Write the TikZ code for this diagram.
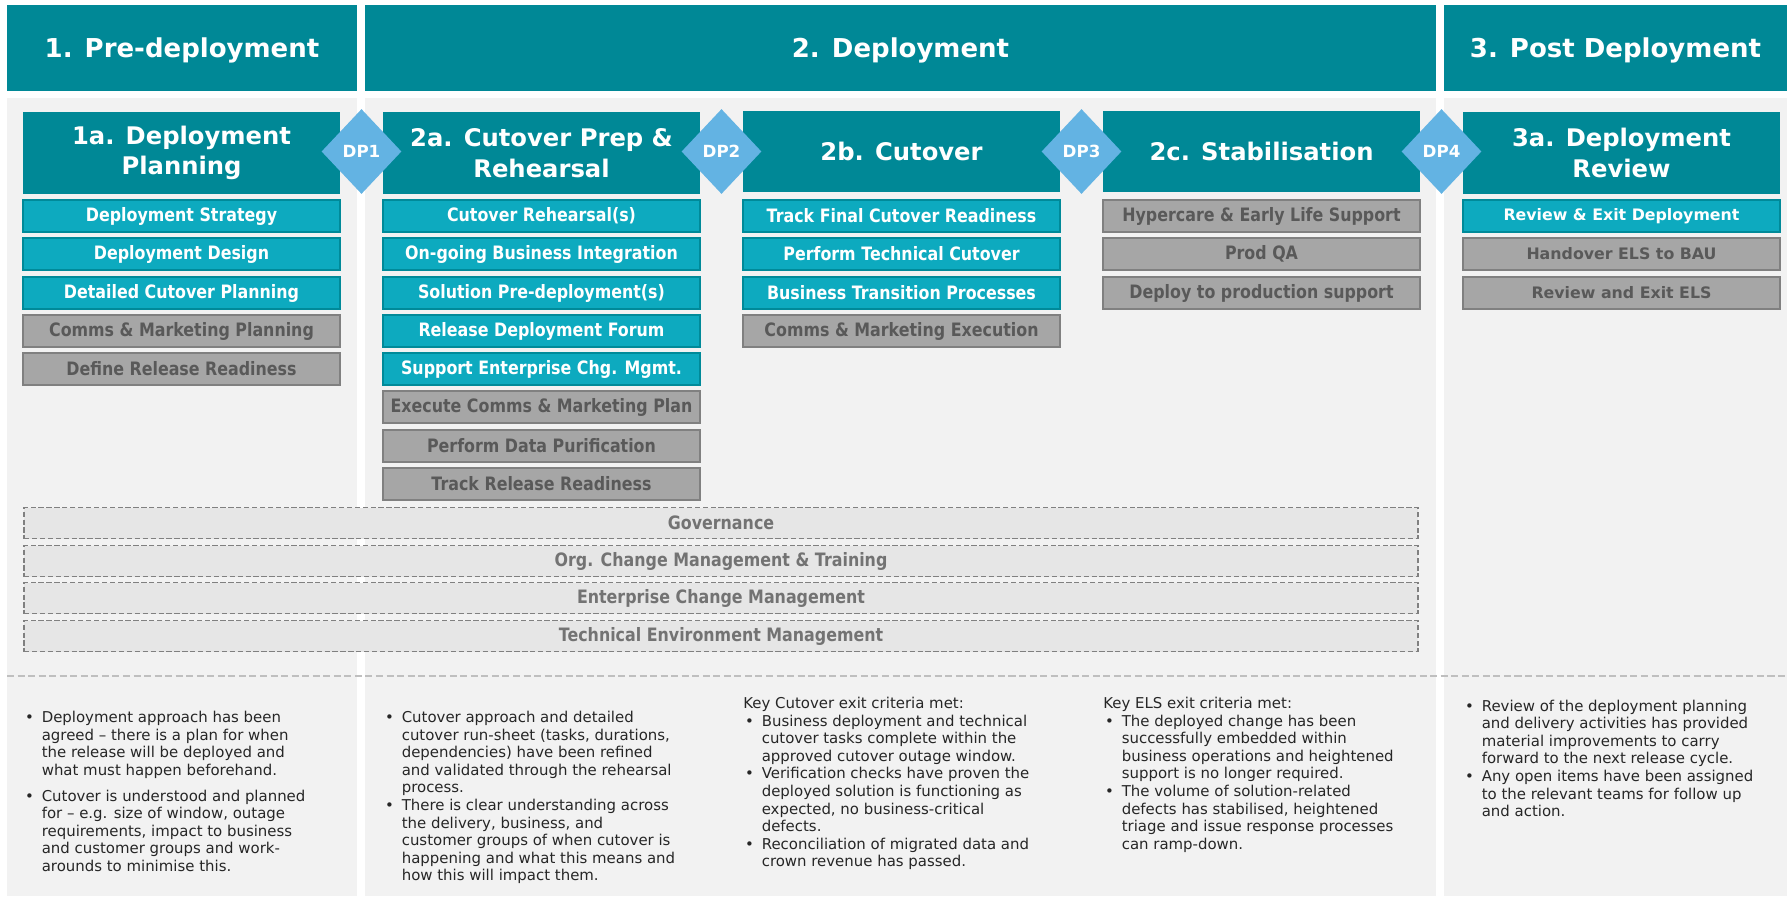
\documentclass[tikz,border=0pt]{standalone}
\usepackage{fontspec}
\setmainfont{DejaVu Sans}
\newfontfamily\condbf{DejaVu Sans Bold}[FakeStretch=0.86]
\usetikzlibrary{shapes.geometric}

\definecolor{tealdk}{HTML}{008896}
\definecolor{tealsub}{HTML}{0DAABF}
\definecolor{tealedge}{HTML}{008A99}
\definecolor{greysub}{HTML}{A6A6A6}
\definecolor{greyedge}{HTML}{808080}
\definecolor{greytxt}{HTML}{595959}
\definecolor{dpblue}{HTML}{63B3E3}
\definecolor{panelbg}{HTML}{F2F2F2}
\definecolor{bandbg}{HTML}{E6E6E6}
\definecolor{bandtxt}{HTML}{737373}
\definecolor{sepgrey}{HTML}{BFBFBF}
\definecolor{bodytxt}{HTML}{262626}

% bullet and hanging indent for the exit notes
\newcommand{\bul}{\makebox[10.5pt][l]{\hspace{1pt}\textbullet}}
\newcommand{\ind}{\hspace*{10.5pt}}

\begin{document}
\begin{tikzpicture}[x=0.02cm, y=-0.02cm,
    header/.style={fill=tealdk, text=white, inner sep=0, minimum height=1.72cm, text depth=0pt,
      font=\fontsize{14.8}{18}\selectfont\bfseries},
    panel/.style={fill=panelbg, inner sep=0, minimum height=15.96cm},
    phase/.style={fill=tealdk, text=white, align=center, inner sep=0,
      minimum width=6.34cm, minimum height=1.64cm, font=\fontsize{13.8}{17.5}\selectfont\bfseries},
    gate/.style={diamond, fill=dpblue, text=white, inner sep=0,
      minimum width=1.6cm, minimum height=1.7cm, font=\fontsize{9.5}{11}\selectfont\bfseries},
    task/.style={fill=tealsub, draw=tealedge, line width=1.2pt, text=white, inner sep=0,
      minimum width=6.34cm, minimum height=0.64cm, font=\fontsize{10.5}{12}\condbf},
    later/.style={task, fill=greysub, draw=greyedge, text=greytxt},
    band/.style={fill=bandbg, draw=greyedge, dash pattern=on 3pt off 1.5pt, line width=1pt,
      text=bandtxt, inner sep=0, minimum width=27.88cm, minimum height=0.62cm,
      font=\fontsize{10.5}{12}\condbf},
    notes/.style={anchor=north west, align=left, inner sep=0, text=bodytxt,
      font=\fontsize{8.5}{10}\selectfont}
  ]
  \useasboundingbox (0,0) rectangle (1787,899);
  \fill[white] (0,0) rectangle (1787,899);

  % Phase headers
  \node[header, minimum width=7cm] (h1) at (182,48) {1. Pre-deployment};
  \node[header, minimum width=21.42cm] (h2) at (900.5,48) {2. Deployment};
  \node[header, minimum width=6.86cm] (h3) at (1615.5,48) {3. Post Deployment};

  % Column backgrounds
  \node[panel, minimum width=7cm] (col1) at (182,497) {};
  \node[panel, minimum width=21.42cm] (col2) at (900.5,497) {};
  \node[panel, minimum width=6.86cm] (col3) at (1615.5,497) {};

  % Divider above the exit notes
  \draw[sepgrey, line width=0.8pt, dash pattern=on 4pt off 2pt] (7,676) -- (1787,676);

  % Stages
  \node[phase] (p1a) at (181.5,153) {1a. Deployment\\Planning};
  \node[phase] (p2a) at (541.5,153) {2a. Cutover Prep \&\\Rehearsal};
  \node[phase] (p2b) at (901.5,151.5) {2b. Cutover};
  \node[phase] (p2c) at (1261.5,151.5) {2c. Stabilisation};
  \node[phase] (p3a) at (1621.5,153) {3a. Deployment\\Review};

  % Decision points
  \node[gate] (dp1) at (361.5,151.5) {DP1};
  \node[gate] (dp2) at (721.5,151.5) {DP2};
  \node[gate] (dp3) at (1081.5,151.5) {DP3};
  \node[gate] (dp4) at (1441.5,151.5) {DP4};

  % 1a tasks
  \node[task] (a1) at (181.5,216) {Deployment Strategy};
  \node[task] (a2) at (181.5,254) {Deployment Design};
  \node[task] (a3) at (181.5,293) {Detailed Cutover Planning};
  \node[later] (a4) at (181.5,331) {Comms \& Marketing Planning};
  \node[later] (a5) at (181.5,369) {Define Release Readiness};

  % 2a tasks
  \node[task] (b1) at (541.5,216) {Cutover Rehearsal(s)};
  \node[task] (b2) at (541.5,254) {On-going Business Integration};
  \node[task] (b3) at (541.5,293) {Solution Pre-deployment(s)};
  \node[task] (b4) at (541.5,331) {Release Deployment Forum};
  \node[task] (b5) at (541.5,369) {Support Enterprise Chg. Mgmt.};
  \node[later] (b6) at (541.5,407) {Execute Comms \& Marketing Plan};
  \node[later] (b7) at (541.5,446) {Perform Data Purification};
  \node[later] (b8) at (541.5,484) {Track Release Readiness};

  % 2b tasks
  \node[task] (c1) at (901.5,216) {Track Final Cutover Readiness};
  \node[task] (c2) at (901.5,254) {Perform Technical Cutover};
  \node[task] (c3) at (901.5,293) {Business Transition Processes};
  \node[later] (c4) at (901.5,331) {Comms \& Marketing Execution};

  % 2c tasks
  \node[later] (d1) at (1261.5,216) {Hypercare \& Early Life Support};
  \node[later] (d2) at (1261.5,254) {Prod QA};
  \node[later] (d3) at (1261.5,293) {Deploy to production support};

  % 3a tasks
  \node[task, font=\fontsize{9}{11}\selectfont\bfseries] (e1) at (1621.5,216) {Review \& Exit Deployment};
  \node[later, font=\fontsize{9}{11}\selectfont\bfseries] (e2) at (1621.5,254) {Handover ELS to BAU};
  \node[later, font=\fontsize{9}{11}\selectfont\bfseries] (e3) at (1621.5,293) {Review and Exit ELS};

  % Ongoing workstreams
  \node[band] (gov) at (721,523) {Governance};
  \node[band] (ocm) at (721,561) {Org. Change Management \& Training};
  \node[band] (ecm) at (721,598) {Enterprise Change Management};
  \node[band] (tem) at (721,636) {Technical Environment Management};

  % Exit notes
  \node[notes] (n1) at (23,711) {%
    \bul Deployment approach has been\\
    \ind agreed -- there is a plan for when\\
    \ind the release will be deployed and\\
    \ind what must happen beforehand.\\[4.7pt]
    \bul Cutover is understood and planned\\
    \ind for -- e.g. size of window, outage\\
    \ind requirements, impact to business\\
    \ind and customer groups and work-\\
    \ind arounds to minimise this.};
  \node[notes] (n2) at (383,711) {%
    \bul Cutover approach and detailed\\
    \ind cutover run-sheet (tasks, durations,\\
    \ind dependencies) have been refined\\
    \ind and validated through the rehearsal\\
    \ind process.\\
    \bul There is clear understanding across\\
    \ind the delivery, business, and\\
    \ind customer groups of when cutover is\\
    \ind happening and what this means and\\
    \ind how this will impact them.};
  \node[notes] (n3) at (743,697) {%
    Key Cutover exit criteria met:\\
    \bul Business deployment and technical\\
    \ind cutover tasks complete within the\\
    \ind approved cutover outage window.\\
    \bul Verification checks have proven the\\
    \ind deployed solution is functioning as\\
    \ind expected, no business-critical\\
    \ind defects.\\
    \bul Reconciliation of migrated data and\\
    \ind crown revenue has passed.};
  \node[notes] (n4) at (1103,697) {%
    Key ELS exit criteria met:\\
    \bul The deployed change has been\\
    \ind successfully embedded within\\
    \ind business operations and heightened\\
    \ind support is no longer required.\\
    \bul The volume of solution-related\\
    \ind defects has stabilised, heightened\\
    \ind triage and issue response processes\\
    \ind can ramp-down.};
  \node[notes] (n5) at (1463,699.5) {%
    \bul Review of the deployment planning\\
    \ind and delivery activities has provided\\
    \ind material improvements to carry\\
    \ind forward to the next release cycle.\\
    \bul Any open items have been assigned\\
    \ind to the relevant teams for follow up\\
    \ind and action.};
\end{tikzpicture}
\end{document}
